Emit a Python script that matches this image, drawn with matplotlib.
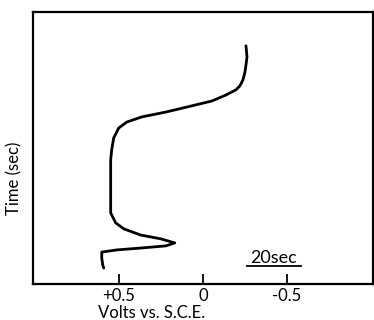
import matplotlib
matplotlib.use("Agg")
from matplotlib import pyplot as plt

# trace: potential (V vs. S.C.E.) against time (sec)
volts = [-0.256, -0.262, -0.256, -0.250, -0.238, -0.220, -0.196, -0.137,
         -0.054, 0.065, 0.220, 0.363, 0.452, 0.500, 0.530, 0.542, 0.548,
         0.548, 0.548, 0.548, 0.518, 0.470, 0.369, 0.250, 0.167, 0.220,
         0.369, 0.512, 0.601, 0.601, 0.595, 0.589]
seconds = [88.1, 84.0, 81.0, 78.4, 75.5, 73.3, 71.8, 69.9, 67.7, 65.9,
           63.6, 61.8, 59.9, 57.7, 54.0, 49.6, 45.9, 38.5, 31.1, 26.3,
           22.6, 20.4, 18.1, 16.7, 15.2, 14.1, 13.3, 12.6, 11.8, 9.6,
           7.0, 5.9]

tick_vals = [0.5, 0.0, -0.5]
tick_text = ["+0.5", "0", "-0.5"]

plt.rcParams['font.family'] = ['Lato', 'DejaVu Sans']

fig = plt.figure(figsize=(3.74, 3.2), dpi=100)
ax = fig.add_axes([0.088, 0.1125, 0.909, 0.85])

ax.plot(volts, seconds, color="black", linewidth=2.0,
        solid_joinstyle="round", solid_capstyle="round")

ax.set_xlim(1.01, -1.01)
ax.set_ylim(0, 100.6)

ax.set_xticks(tick_vals)
ax.set_xticklabels(tick_text, fontsize=12)
ax.tick_params(axis="x", direction="in", length=7, width=1.3, pad=3)
ax.set_yticks([])
for s in ax.spines.values():
    s.set_linewidth(1.6)

ax.set_xlabel("Volts vs. S.C.E.", fontsize=12)
ax.xaxis.set_label_coords(0.35, -0.078)
ax.set_ylabel("Time (sec)", fontsize=12)
ax.yaxis.set_label_coords(-0.03, 0.39)

# 20 sec scale label with underline
ax.text(-0.422, 9.6, "20sec", fontsize=13, ha="center", va="center")
ax.plot([-0.265, -0.58], [6.6, 6.6], color="black", linewidth=1.3)

fig.savefig("out.png", dpi=100)
